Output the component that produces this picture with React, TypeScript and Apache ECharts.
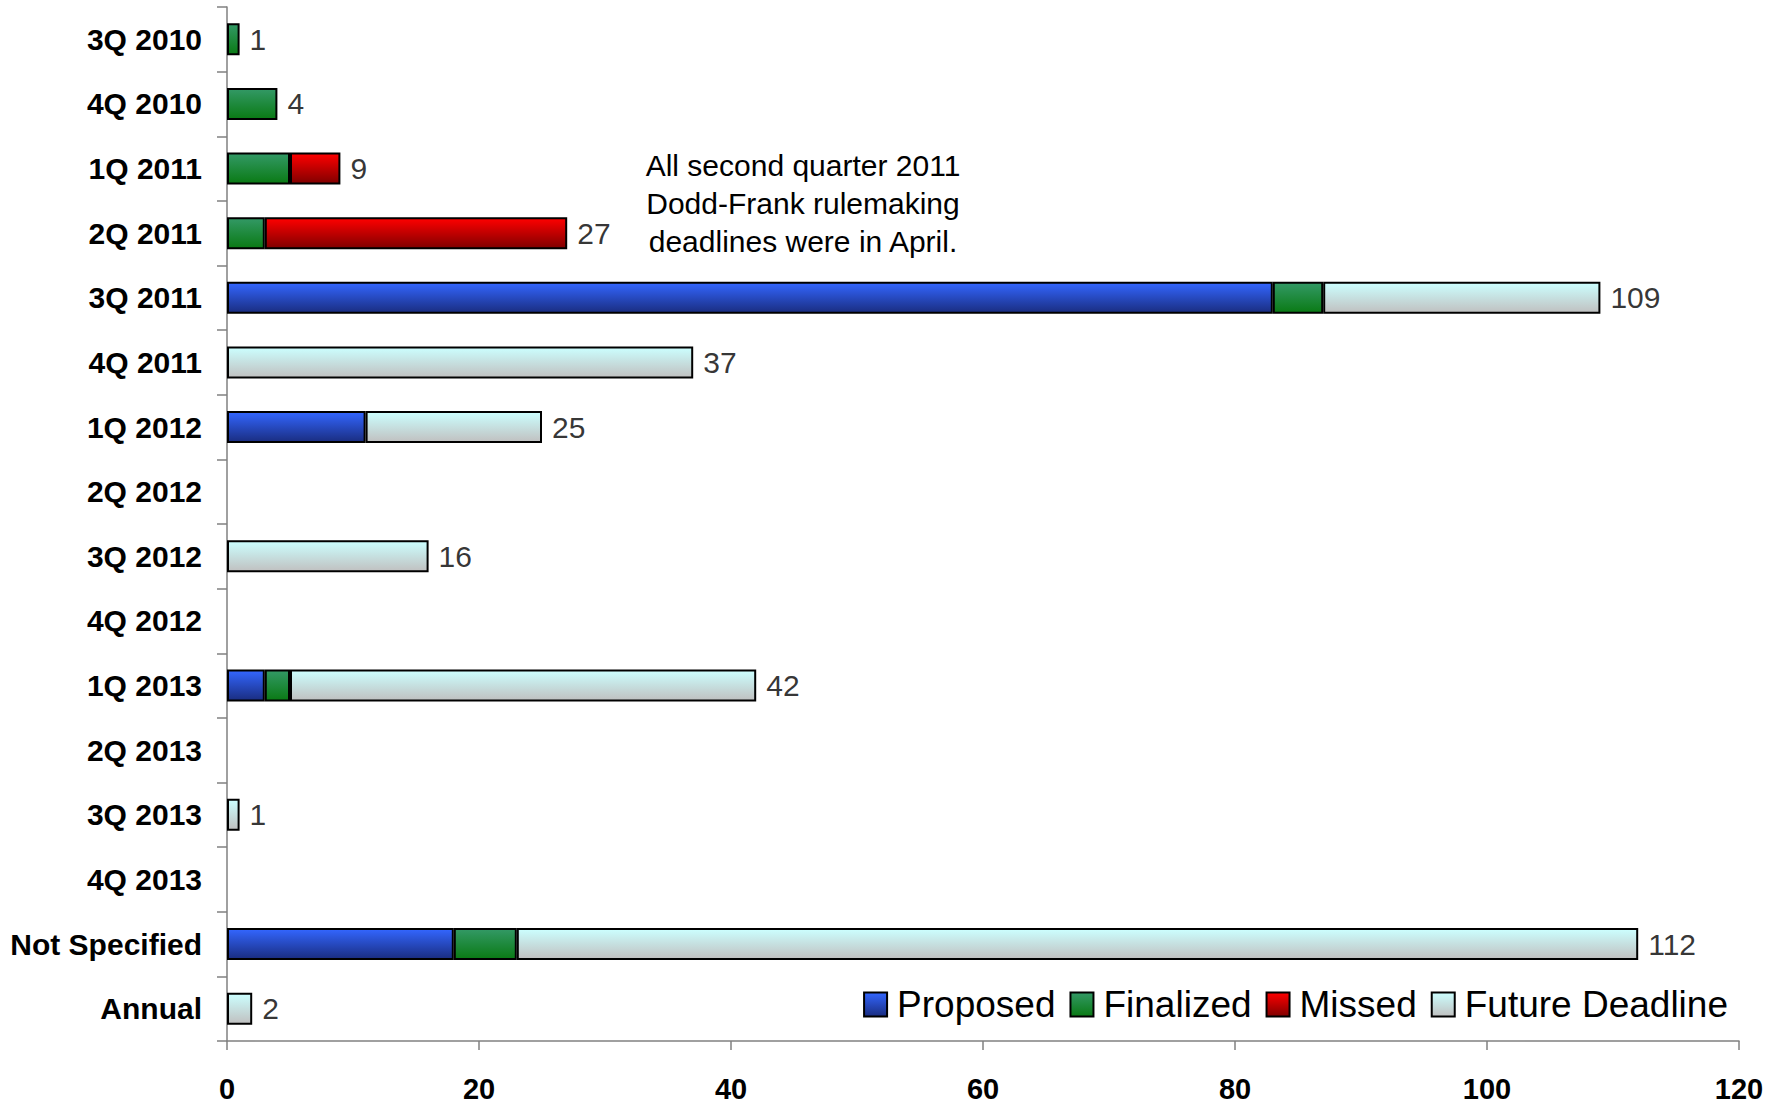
import React, { useEffect, useRef } from "react";
import * as echarts from "echarts";

const categories = [
  "3Q 2010", "4Q 2010", "1Q 2011", "2Q 2011", "3Q 2011", "4Q 2011", "1Q 2012", "2Q 2012",
  "3Q 2012", "4Q 2012", "1Q 2013", "2Q 2013", "3Q 2013", "4Q 2013", "Not Specified", "Annual",
];
const proposed = [null, null, null, null, 83, null, 11, null, null, null, 3, null, null, null, 18, null];
const finalized = [1, 4, 5, 3, 4, null, null, null, null, null, 2, null, null, null, 5, null];
const missed = [null, null, 4, 24, null, null, null, null, null, null, null, null, null, null, null, null];
const future = [null, null, null, null, 22, 37, 14, null, 16, null, 37, null, 1, null, 89, 2];
const xTicks = { min: 0, max: 120, interval: 20 };
const annotation = ["All second quarter 2011", "Dodd-Frank rulemaking", "deadlines were in April."];

const FONT = "'Liberation Sans', Arial, Helvetica, sans-serif";

function grad(top: string, bottom: string) {
  return {
    type: "linear", x: 0, y: 0, x2: 0, y2: 1,
    colorStops: [{ offset: 0, color: top }, { offset: 1, color: bottom }],
  };
}

export default function App() {
  const ref = useRef<HTMLDivElement>(null);
  useEffect(() => {
    if (!ref.current) return;
    const chart = echarts.init(ref.current, null, { renderer: "svg" });
    const totals = categories.map((_, i) =>
      [proposed, finalized, missed, future].reduce((s, arr) => s + (arr[i] || 0), 0)
    );
    const labelPoints = totals
      .map((t, i) => (t > 0 ? [t, i] : null))
      .filter((p) => p !== null);
    const mk = (name: string, data: any[], top: string, bottom: string) => ({
      type: "bar",
      stack: "total",
      barWidth: 32,
      name,
      data,
      itemStyle: { color: grad(top, bottom), borderColor: "#000", borderWidth: 2 },
    });
    chart.setOption({
      animation: false,
      backgroundColor: "#fff",
      textStyle: { fontFamily: FONT },
      grid: { left: 227, right: 43, top: 7, bottom: 61, containLabel: false },
      legend: {
        data: ["Proposed", "Finalized", "Missed", "Future Deadline"],
        right: 49,
        top: 981,
        icon: "rect",
        itemWidth: 23,
        itemHeight: 24,
        itemGap: 14,
        textStyle: { fontSize: 37, color: "#000", fontFamily: FONT, padding: [0, 0, 0, 5] },
      },
      xAxis: {
        type: "value",
        min: xTicks.min,
        max: xTicks.max,
        interval: xTicks.interval,
        axisLine: { show: true, lineStyle: { color: "#808080", width: 1.5 } },
        axisTick: { show: true, length: 9, lineStyle: { color: "#808080", width: 1.5 } },
        splitLine: { show: false },
        axisLabel: { fontSize: 29, fontWeight: "bold", color: "#000", margin: 33, fontFamily: FONT },
      },
      yAxis: {
        type: "category",
        data: categories,
        inverse: true,
        axisLine: { show: true, lineStyle: { color: "#808080", width: 1.5 } },
        axisTick: { show: true, length: 10, lineStyle: { color: "#808080", width: 1.5 } },
        axisLabel: { fontSize: 30, fontWeight: "bold", color: "#000", margin: 25, fontFamily: FONT },
      },
      graphic: [
        {
          type: "text",
          x: 803,
          y: 146,
          style: {
            text: annotation.join("\n"),
            fill: "#000",
            font: `30px ${FONT}`,
            textAlign: "center",
            textVerticalAlign: "top",
            lineHeight: 38,
          },
        },
      ],
      series: [
        mk("Proposed", proposed, "#3366ff", "#1a2d80"),
        mk("Finalized", finalized, "#339966", "#0a7a14"),
        mk("Missed", missed, "#ff0000", "#800000"),
        mk("Future Deadline", future, "#ccffff", "#c0c0c0"),
        {
          type: "scatter",
          name: "totals",
          data: labelPoints,
          symbolSize: 0,
          silent: true,
          label: {
            show: true,
            position: "right",
            distance: 10,
            fontSize: 30,
            color: "#000",
            fontFamily: FONT,
            formatter: (p: any) => String(p.value[0]),
          },
        },
      ],
    });
    return () => chart.dispose();
  }, []);
  return (
    <div
      ref={ref}
      style={{ position: "fixed", left: 0, top: 0, width: 1782, height: 1103, background: "#fff" }}
    />
  );
}
